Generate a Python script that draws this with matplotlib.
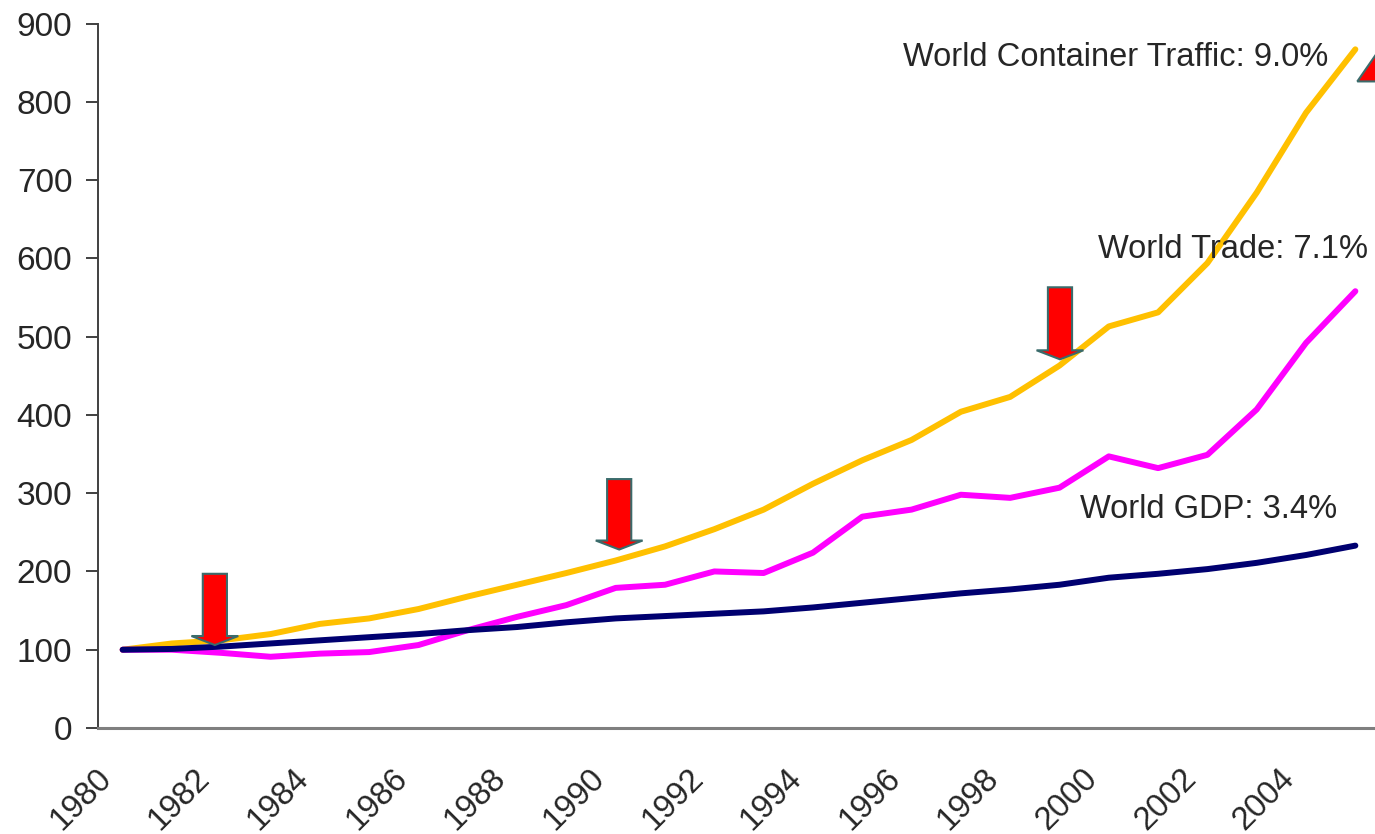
import matplotlib
matplotlib.use("Agg")
import matplotlib.pyplot as plt
from matplotlib.patches import FancyArrow, Polygon
from matplotlib.transforms import ScaledTranslation

plt.rcParams['font.family'] = ['Liberation Sans', 'DejaVu Sans']

years = list(range(1980, 2006))

# index values, 1980 = 100
container = [100, 108, 112, 120, 133, 140, 152, 168, 183, 198, 214, 232, 254,
             279, 312, 342, 368, 404, 423, 463, 513, 531, 594, 684, 786, 867]
trade = [100, 100, 96, 91, 95, 97, 106, 125, 142, 157, 179, 183, 200,
         198, 224, 270, 279, 298, 294, 307, 347, 332, 349, 407, 492, 558]
gdp = [100, 101, 104, 108, 112, 116, 120, 125, 129, 135, 140, 143, 146,
       149, 154, 160, 166, 172, 177, 183, 192, 197, 203, 211, 221, 233]

labels = ["World Container Traffic: 9.0%", "World Trade: 7.1%", "World GDP: 3.4%"]
label_pos = [(2004.45, 857), (2005.26, 611), (2004.63, 279)]

# down arrows: (year, top value, tip value)
arrows = [(1981.87, 197, 106), (1990.07, 318, 228), (1999.01, 563, 471)]

tick_years = list(range(1980, 2005, 2))
yticks = list(range(0, 1000, 100))

fig = plt.figure(figsize=(13.75, 8.34), dpi=100)
ax = fig.add_axes([98 / 1375, 1 - 728 / 834, 1282 / 1375, (728 - 23.5) / 834])

ax.plot(years, container, color="#FFC000", lw=4.3, solid_capstyle="round", zorder=3)
ax.plot(years, trade, color="#FF00FF", lw=4.3, solid_capstyle="round", zorder=3)
ax.plot(years, gdp, color="#000070", lw=4.3, solid_capstyle="round", zorder=3)

for (x, y), txt in zip(label_pos, labels):
    ax.text(x, y, txt, ha="right", va="center", fontsize=23.5, color="#262626")

for x, top, tip in arrows:
    ax.add_patch(FancyArrow(x, top, 0, tip - top, width=0.49, head_width=0.95,
                            head_length=11.5, length_includes_head=True,
                            fc="#FF0000", ec="#3A6B6B", lw=1.5, zorder=5))

# partially visible arrow head at top right
ax.add_patch(Polygon([(2005.04, 826), (2005.81, 896), (2006.58, 826)], closed=True,
                     fc="#FF0000", ec="#3A6B6B", lw=1.5, zorder=5, clip_on=False))

ax.set_xlim(1979.5, 2005.5)
ax.set_ylim(0, 900)
ax.set_yticks(yticks)
ax.set_xticks(tick_years)
ax.set_xticklabels([str(y) for y in tick_years], rotation=45, ha="right", va="top")

ax.tick_params(axis="y", length=8.5, width=1.4, color="#404040", pad=10,
               labelsize=24, labelcolor="#262626")
ax.tick_params(axis="x", length=0, pad=25, labelsize=23.5, labelcolor="#262626")

offset = ScaledTranslation(-5 / 100, 0, fig.dpi_scale_trans)
for lab in ax.get_xticklabels():
    lab.set_transform(lab.get_transform() + offset)

for side in ["top", "right"]:
    ax.spines[side].set_visible(False)
ax.spines["left"].set_color("#404040")
ax.spines["left"].set_linewidth(1.4)
ax.spines["bottom"].set_color("#7F7F7F")
ax.spines["bottom"].set_linewidth(2.2)

fig.savefig("out.png", dpi=100)
